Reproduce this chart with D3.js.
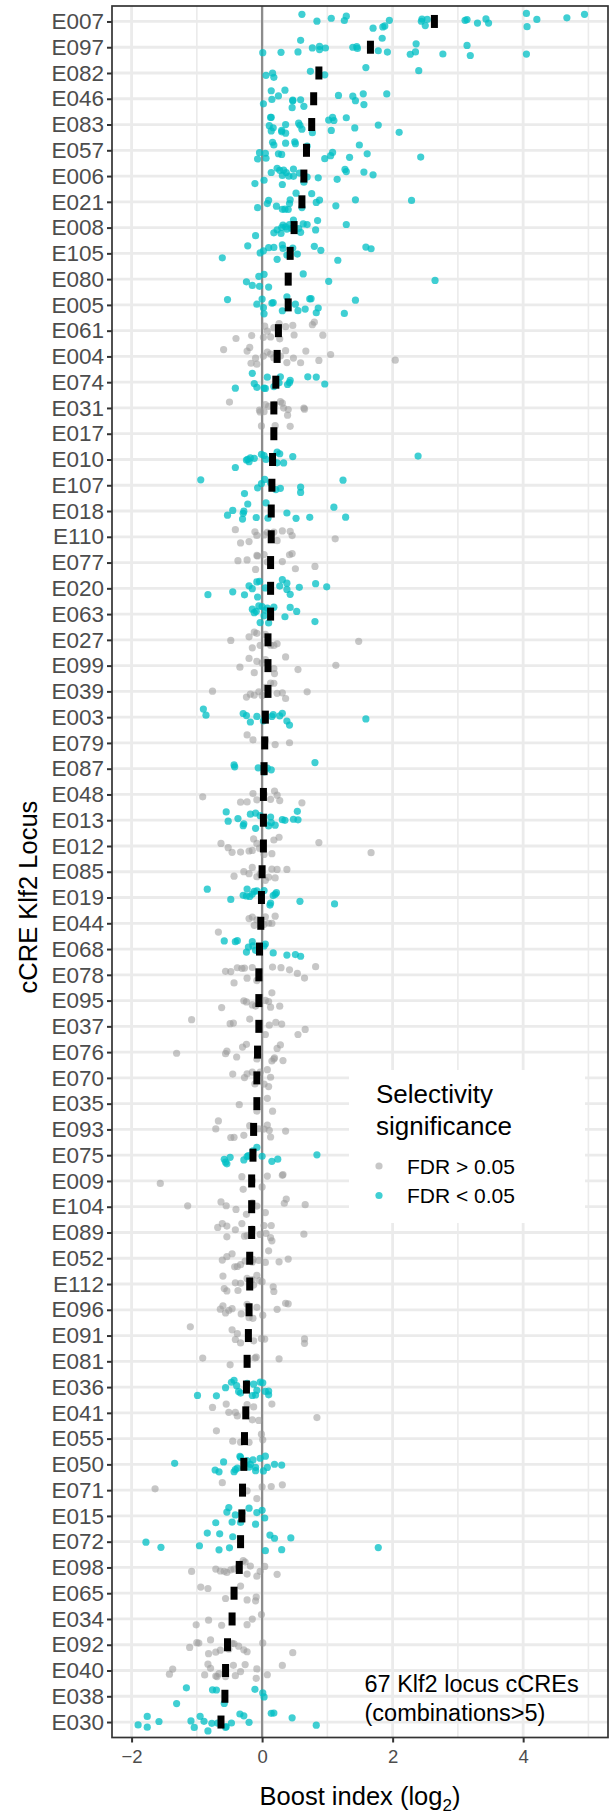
<!DOCTYPE html>
<html>
<head>
<meta charset="utf-8">
<script src="https://cdn.jsdelivr.net/npm/d3@7"></script>
<style>
  body { margin: 0; background: #fff; }
  svg text { font-family: "Liberation Sans", Arial, Helvetica, sans-serif; }
</style>
</head>
<body>
<svg id="chart" width="609" height="1816"></svg>
<script>
// cCREs of the Klf2 locus, ordered by median boost index (top = highest)
const cres = [
  "E007","E097","E082","E046","E083","E057","E006","E021","E008","E105","E080","E005",
  "E061","E004","E074","E031","E017","E010","E107","E018","E110","E077","E020","E063",
  "E027","E099","E039","E003","E079","E087","E048","E013","E012","E085","E019","E044",
  "E068","E078","E095","E037","E076","E070","E035","E093","E075","E009","E104","E089",
  "E052","E112","E096","E091","E081","E036","E041","E055","E050","E071","E015","E072",
  "E098","E065","E034","E092","E040","E038","E030"
];

// median boost index (log2) per cCRE
const medians = [
  2.64, 1.66, 0.87, 0.79, 0.76, 0.68, 0.64, 0.61, 0.49, 0.43, 0.40, 0.40,
  0.25, 0.23, 0.21, 0.18, 0.18, 0.16, 0.15, 0.14, 0.14, 0.13, 0.13, 0.13,
  0.09, 0.09, 0.09, 0.05, 0.04, 0.03, 0.02, 0.02, 0.02, 0.00, -0.01, -0.02,
  -0.04, -0.05, -0.05, -0.05, -0.07, -0.08, -0.08, -0.13, -0.14, -0.16, -0.16, -0.16,
  -0.19, -0.19, -0.20, -0.21, -0.23, -0.24, -0.25, -0.27, -0.28, -0.30, -0.31, -0.33,
  -0.35, -0.43, -0.46, -0.53, -0.56, -0.57, -0.63
];

// cCREs whose selectivity passes FDR < 0.05
const significant = [
  "E007","E097","E082","E046","E083","E057","E006","E021","E008","E105","E080","E005",
  "E074","E010","E107","E018","E020","E063","E003","E087","E013","E019","E068","E075",
  "E036","E050","E015","E072","E038","E030"
];

// boost index (log2) of each combination, one list per cCRE (same order as cres)
const boostValues = [
  [0.61,0.84,1.06,1.26,1.29,1.70,1.85,1.88,1.95,2.44,2.45,2.53,2.50,3.11,3.14,3.30,3.43,3.47,4.05,4.21,4.06,4.67,4.94], // E007
  [0.01,0.29,0.55,0.59,0.77,0.88,0.88,0.97,1.39,1.46,1.45,1.78,1.84,1.92,2.27,2.36,2.35,2.77,3.14,3.19,4.05], // E097
  [0.06,0.18,0.16,0.74,0.96,1.59,2.40], // E082
  [0.02,0.15,0.14,0.25,0.35,0.47,0.46,0.47,0.59,0.64,1.17,1.43,1.39,1.56,1.55,1.91], // E046
  [0.11,0.14,0.13,0.17,0.14,0.30,0.36,0.30,0.36,0.56,0.58,0.61,0.77,1.02,1.06,1.10,1.08,1.29,1.42,1.78,2.10], // E083
  [-0.07,-0.04,0.05,0.06,0.16,0.18,0.25,0.30,0.36,0.51,0.50,0.69,0.96,1.05,1.08,1.34,1.49,1.61,2.43], // E057
  [-0.11,0.03,0.14,0.23,0.27,0.31,0.33,0.37,0.41,0.48,0.48,0.57,0.64,0.69,0.86,1.15,1.27,1.29,1.56,1.70,0.31], // E006
  [-0.07,0.08,0.10,0.22,0.31,0.35,0.40,0.42,0.43,0.52,0.61,0.76,0.83,0.88,1.13,1.43,2.29], // E021
  [-0.10,0.18,0.23,0.29,0.32,0.36,0.38,0.42,0.45,0.48,0.56,0.59,0.63,0.69,0.82,0.85,1.29,0.30], // E008
  [-0.61,-0.22,-0.03,0.02,0.10,0.18,0.23,0.32,0.31,0.38,0.47,0.54,0.80,0.90,1.16,1.59,1.67], // E105
  [-0.24,-0.15,-0.05,-0.04,0.03,0.10,0.63,1.02,2.65], // E080
  [-0.53,-0.08,0.03,0.02,0.00,0.15,0.17,0.31,0.38,0.51,0.55,0.66,0.73,0.75,0.83,0.86,1.26,1.43], // E005
  [-0.40,-0.16,0.02,0.04,0.08,0.13,0.18,0.26,0.27,0.36,0.47,0.49,0.77,0.80,0.93], // E061
  [-0.59,-0.23,-0.19,-0.17,-0.10,-0.08,0.02,0.08,0.13,0.18,0.28,0.36,0.38,0.48,0.59,0.67,0.87,1.05,2.04], // E004
  [-0.41,-0.15,-0.12,-0.08,0.03,0.05,0.08,0.18,0.26,0.28,0.39,0.42,0.43,0.70,0.83,0.96], // E074
  [-0.50,-0.04,-0.03,0.03,0.05,0.10,0.19,0.28,0.31,0.33,0.39,0.40,0.64,0.65], // E031
  [-0.01,0.20,0.43], // E017
  [-0.41,-0.24,-0.20,-0.18,-0.22,-0.12,0.03,0.06,-0.01,0.17,0.23,0.27,0.23,0.33,0.47,2.39], // E010
  [-0.94,-0.27,-0.07,-0.01,0.04,0.13,0.21,0.28,0.59,0.59,1.24], // E107
  [-0.53,-0.45,-0.30,-0.28,-0.22,-0.29,-0.09,0.06,0.09,0.38,0.52,0.73,1.10,1.28], // E018
  [-0.41,-0.33,-0.20,-0.11,-0.08,0.03,0.08,0.18,0.23,0.31,0.43,0.46,1.12], // E110
  [-0.37,-0.23,-0.10,-0.08,-0.07,0.03,0.08,0.31,0.42,0.46,0.51,0.81], // E077
  [-0.83,-0.45,-0.27,-0.20,-0.15,-0.08,-0.07,-0.04,0.05,0.27,0.31,0.38,0.43,0.38,0.57,0.82,0.99], // E020
  [-0.15,-0.12,-0.09,-0.05,-0.03,0.00,0.03,0.05,0.08,0.10,0.18,0.35,0.43,0.53,0.81], // E063
  [-0.48,-0.20,-0.15,-0.12,-0.08,-0.03,0.05,0.13,0.18,0.23,1.48], // E027
  [-0.34,-0.20,-0.12,-0.08,0.00,0.05,0.18,0.19,0.36,0.55,1.13], // E099
  [-0.76,-0.24,-0.18,-0.12,-0.05,0.00,0.05,0.13,0.18,0.23,0.31,0.36,0.69], // E039
  [-0.90,-0.86,-0.29,-0.24,-0.18,-0.08,0.02,0.04,0.15,0.17,0.27,0.31,0.38,0.42,1.59], // E003
  [-0.23,-0.14,0.05,0.20,0.42], // E079
  [-0.43,-0.42,-0.06,0.03,0.08,0.14,0.81], // E087
  [-0.91,-0.33,-0.23,-0.14,-0.08,0.03,0.13,0.19,0.23,0.27,0.61], // E048
  [-0.55,-0.52,-0.37,-0.29,-0.28,-0.18,-0.10,-0.10,-0.03,0.03,0.10,0.13,0.14,0.20,0.31,0.35,0.48,0.55,0.54], // E013
  [-0.63,-0.52,-0.46,-0.33,-0.20,-0.15,-0.13,-0.08,-0.04,0.03,0.15,0.18,0.26,0.87,1.67], // E012
  [-0.43,-0.28,-0.20,-0.15,-0.08,-0.03,0.05,0.10,0.15,0.20,0.23,0.38], // E085
  [-0.84,-0.48,-0.29,-0.24,-0.23,-0.19,-0.15,-0.12,-0.08,0.03,0.12,0.13,0.17,0.20,0.22,0.58,1.11], // E019
  [-0.67,-0.20,-0.15,-0.12,-0.08,0.03,0.05,0.10,0.15,0.20], // E044
  [-0.58,-0.41,-0.38,-0.24,-0.21,-0.15,-0.14,-0.10,0.03,0.05,0.17,0.38,0.51,0.59], // E068
  [-0.56,-0.48,-0.43,-0.38,-0.31,-0.27,-0.23,-0.15,-0.08,0.16,0.29,0.42,0.54,0.65,0.82], // E078
  [-0.62,-0.28,-0.24,-0.15,-0.10,-0.04,0.05,0.10,0.13,0.15,0.27], // E095
  [-1.08,-0.49,-0.44,-0.19,0.05,0.11,0.21,0.30,0.55,0.66], // E037
  [-1.31,-0.56,-0.54,-0.39,-0.30,-0.24,-0.08,0.15,0.18,0.23,0.28,0.32,0.19], // E076
  [-0.45,-0.27,-0.23,-0.15,-0.11,-0.03,0.03,0.08,0.10,0.13], // E070
  [-0.35,-0.08,0.08,0.16], // E035
  [-0.71,-0.67,-0.48,-0.43,-0.28,-0.19,-0.13,-0.05,0.03,0.08,0.11,0.13,0.36], // E093
  [-0.58,-0.54,-0.49,-0.56,-0.28,-0.21,-0.23,-0.14,-0.08,0.00,0.15,0.24,0.84], // E075
  [-1.56,-0.31,-0.29,-0.15,0.00,0.08,0.31,0.32], // E009
  [-1.14,-0.63,-0.55,-0.40,-0.24,-0.15,-0.08,0.05,0.34,0.37,0.66], // E104
  [-0.68,-0.61,-0.54,-0.41,-0.54,-0.31,-0.27,-0.23,-0.15,-0.03,0.03,0.06,0.13,0.14,0.15,0.64], // E089
  [-0.61,-0.54,-0.46,-0.42,-0.38,-0.33,-0.26,-0.15,-0.14,-0.05,0.05,0.10,0.26,0.40], // E052
  [-0.60,-0.58,-0.54,-0.41,-0.37,-0.33,-0.23,-0.15,-0.13,-0.08,-0.04,0.00,0.17,0.18], // E112
  [-0.64,-0.60,-0.56,-0.51,-0.46,-0.32,-0.23,-0.20,-0.14,-0.08,0.01,0.23,0.36,0.40], // E096
  [-1.10,-0.46,-0.41,-0.38,-0.33,-0.13,-0.01,0.04,0.65,0.65], // E091
  [-0.91,-0.49,-0.22,-0.11,-0.09,0.26], // E081
  [-0.99,-0.70,-0.56,-0.47,-0.43,-0.39,-0.36,-0.33,-0.23,-0.15,-0.13,-0.10,-0.08,-0.03,0.01,0.05,0.10,0.10], // E036
  [-0.76,-0.55,-0.51,-0.41,-0.38,-0.23,-0.15,-0.13,-0.05,0.15,0.84], // E041
  [-0.70,-0.45,-0.33,-0.20,-0.01,0.01], // E055
  [-1.34,-0.72,-0.66,-0.59,-0.43,-0.41,-0.38,-0.34,-0.33,-0.23,-0.20,-0.18,-0.14,-0.10,-0.10,-0.03,0.02,0.05,0.08,0.19,0.30], // E050
  [-1.64,-0.61,-0.23,-0.08,0.00,0.14,0.31], // E071
  [-0.71,-0.54,-0.51,-0.46,-0.41,-0.33,-0.31,-0.20,-0.10,-0.08,0.00,0.04], // E015
  [-1.78,-1.55,-0.96,-0.84,-0.66,-0.65,-0.50,-0.45,0.05,0.12,0.19,0.30,0.44,1.78], // E072
  [-1.08,-0.71,-0.64,-0.58,-0.54,-0.48,-0.43,-0.36,-0.29,-0.26,-0.23,-0.18,-0.08,-0.03,0.04,0.23], // E098
  [-0.94,-0.83,-0.56,-0.33,-0.23,-0.10,-0.09], // E065
  [-1.01,-0.82,-0.62,-0.23,-0.15,-0.01], // E034
  [-1.11,-1.00,-0.97,-0.82,-0.79,-0.71,-0.64,-0.51,-0.46,-0.43,-0.36,-0.28,-0.23,0.01,0.47], // E092
  [-1.42,-1.37,-0.88,-0.83,-0.79,-0.71,-0.69,-0.66,-0.56,-0.44,-0.41,-0.33,-0.26,-0.09,-0.08,0.08,0.31], // E040
  [-1.31,-1.16,-0.76,-0.70,-0.58,-0.11,0.03,0.01], // E038
  [-1.90,-1.76,-1.76,-1.58,-1.09,-1.04,-0.95,-0.89,-0.83,-0.77,-0.68,-0.56,-0.55,-0.47,-0.34,-0.28,-0.20,0.14,0.18,0.46,0.83] // E030
];

const xTicks = [-2, 0, 2, 4];
const xMinorTicks = [-1, 1, 3, 5];
const legendTitle = ["Selectivity", "significance"];
const legendLabels = ["FDR > 0.05", "FDR < 0.05"];
const noteLines = ["67 Klf2 locus cCREs", "(combinations>5)"];

const COL_SIG = "#00BFC4";
const COL_NS = "#999999";

const svg = d3.select("#chart");
const panel = { left: 112, right: 608, top: 6, bottom: 1737.5 };

const x = d3.scaleLinear().domain([-2.3, 5.3]).range([panel.left, panel.right]);
const y = d3.scalePoint().domain(cres).range([panel.top, panel.bottom]).padding(0.6);
const step = y.step();
const sigSet = new Set(significant);

// deterministic vertical jitter in [-0.5, 0.5)
function jitter(i, j) {
  const s = Math.sin((i + 1) * 127.1 + (j + 1) * 311.7) * 43758.5453;
  return s - Math.floor(s) - 0.5;
}

// panel background
svg.append("rect")
  .attr("x", panel.left).attr("y", panel.top)
  .attr("width", panel.right - panel.left).attr("height", panel.bottom - panel.top)
  .attr("fill", "#fff");

const grid = svg.append("g");
grid.selectAll(".vminor").data(xMinorTicks).join("line")
  .attr("x1", d => x(d)).attr("x2", d => x(d))
  .attr("y1", panel.top).attr("y2", panel.bottom)
  .attr("stroke", "#EBEBEB").attr("stroke-width", 1.6);
grid.selectAll(".vmajor").data(xTicks).join("line")
  .attr("x1", d => x(d)).attr("x2", d => x(d))
  .attr("y1", panel.top).attr("y2", panel.bottom)
  .attr("stroke", "#EBEBEB").attr("stroke-width", 2.8);
grid.selectAll(".hmajor").data(cres).join("line")
  .attr("x1", panel.left).attr("x2", panel.right)
  .attr("y1", d => y(d)).attr("y2", d => y(d))
  .attr("stroke", "#EBEBEB").attr("stroke-width", 2.8);

// reference line at zero
svg.append("line")
  .attr("x1", x(0)).attr("x2", x(0))
  .attr("y1", panel.top).attr("y2", panel.bottom)
  .attr("stroke", "#8C8C8C").attr("stroke-width", 2.2);

// combination points
const pts = [];
cres.forEach((c, i) => {
  boostValues[i].forEach((v, j) => pts.push({ c, i, j, v, sig: sigSet.has(c) }));
});
svg.append("g").selectAll("circle").data(pts).join("circle")
  .attr("cx", d => x(d.v))
  .attr("cy", d => y(d.c) + jitter(d.i, d.j) * 0.7 * step)
  .attr("r", 3.6)
  .attr("fill", d => d.sig ? COL_SIG : COL_NS)
  .attr("fill-opacity", d => d.sig ? 0.75 : 0.55);

// median marks
svg.append("g").selectAll("rect").data(cres).join("rect")
  .attr("x", (d, i) => x(medians[i]) - 3.5)
  .attr("y", d => y(d) - 6.5)
  .attr("width", 7).attr("height", 13)
  .attr("fill", "#000");

// panel border
svg.append("rect")
  .attr("x", panel.left).attr("y", panel.top)
  .attr("width", panel.right - panel.left).attr("height", panel.bottom - panel.top)
  .attr("fill", "none").attr("stroke", "#333").attr("stroke-width", 1.7);

// axes
const yAxis = svg.append("g")
  .attr("transform", `translate(${panel.left},0)`)
  .call(d3.axisLeft(y).tickSize(5).tickPadding(3));
yAxis.select(".domain").remove();
yAxis.selectAll("line").attr("stroke", "#333").attr("stroke-width", 2);
yAxis.selectAll("text").attr("font-size", 22.5).attr("fill", "#4D4D4D")
  .attr("font-family", '"Liberation Sans", Arial, sans-serif');

const xAxis = svg.append("g")
  .attr("transform", `translate(0,${panel.bottom})`)
  .call(d3.axisBottom(x).tickValues(xTicks).tickSize(5).tickPadding(7));
xAxis.select(".domain").remove();
xAxis.selectAll("line").attr("stroke", "#333").attr("stroke-width", 2);
xAxis.selectAll("text").attr("font-size", 18.5).attr("fill", "#4D4D4D")
  .attr("font-family", '"Liberation Sans", Arial, sans-serif');

// axis titles
const xt = svg.append("text")
  .attr("x", (panel.left + panel.right) / 2).attr("y", 1805)
  .attr("text-anchor", "middle").attr("font-size", 25.5).attr("fill", "#000");
xt.append("tspan").text("Boost index (log");
xt.append("tspan").attr("font-size", 17).attr("dy", 6).text("2");
xt.append("tspan").attr("dy", -6).text(")");

svg.append("text")
  .attr("transform", "translate(37,897) rotate(-90)")
  .attr("text-anchor", "middle").attr("font-size", 25.5).attr("fill", "#000")
  .text("cCRE Klf2 Locus");

// legend
const lg = svg.append("g");
lg.append("rect").attr("x", 349).attr("y", 1070).attr("width", 236).attr("height", 153).attr("fill", "#fff");
lg.selectAll(".lt").data(legendTitle).join("text")
  .attr("x", 376).attr("y", (d, i) => 1103 + i * 32)
  .attr("font-size", 26).attr("fill", "#000").text(d => d);
lg.selectAll("circle").data(legendLabels).join("circle")
  .attr("cx", 379).attr("cy", (d, i) => 1166 + i * 29.5).attr("r", 3.6)
  .attr("fill", (d, i) => i === 0 ? COL_NS : COL_SIG)
  .attr("fill-opacity", (d, i) => i === 0 ? 0.55 : 0.75);
lg.selectAll(".ll").data(legendLabels).join("text")
  .attr("x", 407).attr("y", (d, i) => 1173.5 + i * 29.5)
  .attr("font-size", 21).attr("fill", "#000").text(d => d);

// note
svg.selectAll(".note").data(noteLines).join("text")
  .attr("x", 364.5).attr("y", (d, i) => 1692 + i * 28.5)
  .attr("font-size", 23.5).attr("fill", "#000").text(d => d);
</script>
</body>
</html>
